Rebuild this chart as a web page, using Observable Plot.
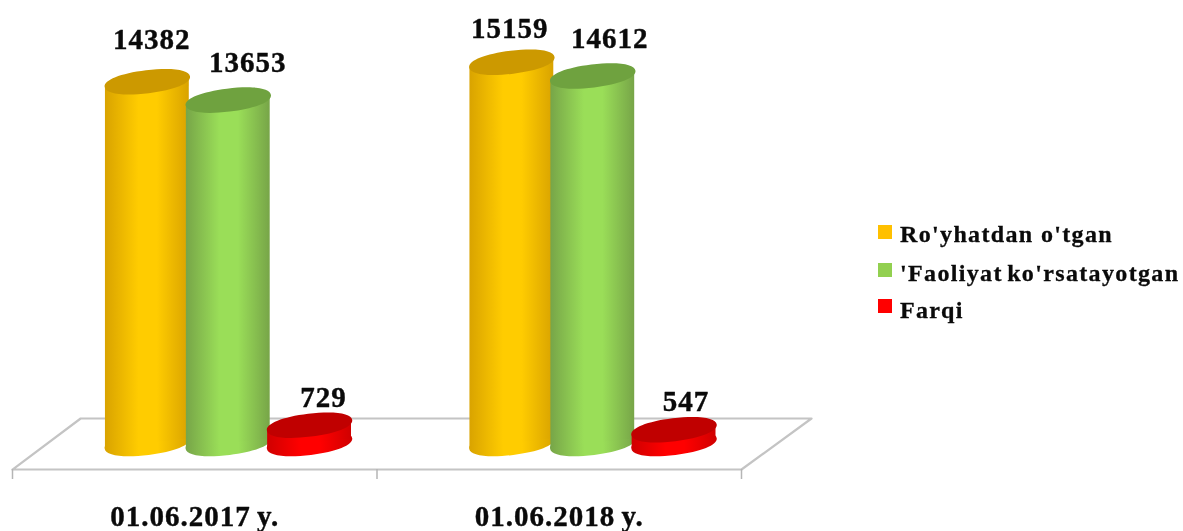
<!DOCTYPE html>
<html>
<head>
<meta charset="utf-8">
<script src="https://cdn.jsdelivr.net/npm/d3@7"></script>
<script src="https://cdn.jsdelivr.net/npm/@observablehq/plot@0.6"></script>
<style>
html,body{margin:0;padding:0;background:#fff;overflow:hidden}
#wrap{position:relative;width:1183px;height:531px;overflow:hidden;font-family:"Liberation Serif","Times New Roman",serif;filter:blur(0.5px)}
#legend{position:absolute;left:0;top:0;width:0;height:0;font-weight:bold;font-size:24px;letter-spacing:1.35px;color:#0a0a0a;-webkit-text-stroke:0.3px #0a0a0a}
#legend span{position:absolute;white-space:pre}
#legend i{position:absolute;width:14px;height:14px}
</style>
</head>
<body>
<div id="wrap"><div id="chart"></div><div id="legend"></div></div>
<script>
const categories = ["01.06.2017 y.", "01.06.2018 y."];
const seriesNames = ["Ro'yhatdan o'tgan", "'Faoliyat ko'rsatayotgan", "Farqi"];
const registered = [14382, 15159];
const active = [13653, 14612];
const difference = [729, 547];
const seriesValues = [registered, active, difference];
const legendColors = ["#ffc000", "#92d050", "#ff0000"];
const sideColors = ["#d9a300", "#77a548", "#d00000"];
const midColors = ["#ffcc00", "#9ade58", "#ff0000"];
const capColors = ["#cc9900", "#6fa23f", "#c00000"];

const slotOffset = [0.37, 0.592, 0.815];
const halfWidth = 0.115;
const tilt = 190;
const floorX = [0, 2, 2.192, 0.187, 0];
const floorY = [-1034, -1034, 994, 994, -1034];
const tickPositions = [0, 1, 2];

const labelDx = [[4.5, 19.5, 14], [-2, 17, 12]];
const labelDy = [[-33, -28, -18], [-24, -28, -19]];

function ellipse(a, b, deg) {
  const t = deg * Math.PI / 180, c = Math.cos(t), s = Math.sin(t), k = 0.6;
  const P = (u, v) => [u * a * c + v * b * s, -u * a * s + v * b * c];
  return {
    draw(ctx) {
      ctx.moveTo(...P(1, 0));
      ctx.bezierCurveTo(...P(1, k), ...P(k, 1), ...P(0, 1));
      ctx.bezierCurveTo(...P(-k, 1), ...P(-1, k), ...P(-1, 0));
      ctx.bezierCurveTo(...P(-1, -k), ...P(-k, -1), ...P(0, -1));
      ctx.bezierCurveTo(...P(k, -1), ...P(1, -k), ...P(1, 0));
      ctx.closePath();
    }
  };
}
const cap = ellipse(43, 11.5, 7);

const defs = () => {
  const d = d3.create("svg:defs");
  seriesNames.forEach((_, i) => {
    const g = d.append("linearGradient").attr("id", "cyl" + i);
    [[0, sideColors[i]], [0.4, midColors[i]], [0.62, midColors[i]], [1, sideColors[i]]].forEach(([o, c]) =>
      g.append("stop").attr("offset", o).attr("stop-color", c));
  });
  return d.node();
};

const marks = [defs];
marks.push(Plot.line(floorX.map((x, i) => ({x, y: floorY[i]})), {x: "x", y: "y", stroke: "#c4c4c4", strokeWidth: 2.2}));
marks.push(Plot.ruleX(tickPositions, {y1: floorY[0], y2: -1431, stroke: "#b5b5b5", strokeWidth: 1.5}));

categories.forEach((cat, g) => {
  seriesNames.forEach((name, s) => {
    const v = seriesValues[s][g];
    const c = g + slotOffset[s];
    const body = [
      {x: c - halfWidth, y1: -tilt, y2: v - tilt},
      {x: c + halfWidth, y1: tilt, y2: v + tilt}
    ];
    marks.push(Plot.dot([{x: c, y: 0}], {x: "x", y: "y", symbol: cap, fill: `url(#cyl${s})`}));
    marks.push(Plot.areaY(body, {x: "x", y1: "y1", y2: "y2", fill: `url(#cyl${s})`}));
    marks.push(Plot.dot([{x: c, y: v}], {x: "x", y: "y", symbol: cap, fill: capColors[s]}));
  });
});
categories.forEach((cat, g) => {
  seriesNames.forEach((name, s) => {
    const v = seriesValues[s][g];
    marks.push(Plot.text([v], {
      x: g + slotOffset[s], y: d => d, text: d => String(d),
      dx: labelDx[g][s], dy: labelDy[g][s], lineAnchor: "bottom",
      fontSize: 29, fontWeight: "bold", fill: "#0a0a0a", stroke: "#0a0a0a", strokeWidth: 0.4
    }));
  });
});
marks.push(Plot.text(categories, {
  x: (d, i) => i + 0.5, frameAnchor: "bottom", dy: -5.5, lineAnchor: "bottom", text: d => d,
  fontSize: 29, fontWeight: "bold", fill: "#0a0a0a", stroke: "#0a0a0a", strokeWidth: 0.4
}));

const chart = Plot.plot({
  width: 1183, height: 531,
  marginTop: 0, marginBottom: 0, marginLeft: 0, marginRight: 0,
  x: {domain: [0, 2], range: [12, 741], axis: null},
  y: {domain: [0, 17614], range: [443, 0], axis: null},
  style: {background: "#fff", fontFamily: '"Liberation Serif","Times New Roman",serif', letterSpacing: "1px", wordSpacing: "-2px", overflow: "hidden"},
  marks
});
document.getElementById("chart").appendChild(chart);

const legend = document.getElementById("legend");
const swatchTop = [225, 263, 299];
const textTop = [221, 260, 297];
const legendWordSpacing = ["0px", "-3px", "0px"];
seriesNames.forEach((n, i) => {
  const sw = document.createElement("i");
  sw.style.cssText = `left:878px;top:${swatchTop[i]}px;background:${legendColors[i]}`;
  legend.appendChild(sw);
  const t = document.createElement("span");
  t.style.cssText = `left:900px;top:${textTop[i]}px;word-spacing:${legendWordSpacing[i]}`;
  t.textContent = n;
  legend.appendChild(t);
});
</script>
</body>
</html>
